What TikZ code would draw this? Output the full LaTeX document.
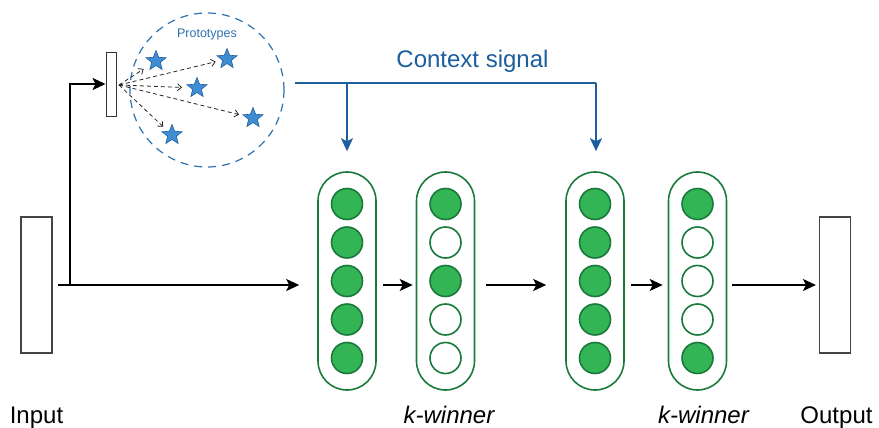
\documentclass[tikz,border=0pt]{standalone}
\usepackage{fontspec}
\setmainfont{Liberation Sans}
\usetikzlibrary{shapes.geometric,arrows.meta,positioning}
\definecolor{ctxblue}{HTML}{1C5E9E}
\definecolor{protoblue}{HTML}{2E72B0}
\definecolor{starfill}{HTML}{3F8ED4}
\definecolor{stardraw}{HTML}{1F5E9C}
\definecolor{neurfill}{HTML}{33B556}
\definecolor{neurdraw}{HTML}{1A7A3C}
\definecolor{boxgray}{HTML}{444444}
\tikzset{
  iobox/.style={draw=boxgray, line width=1.1pt, fill=white, minimum width=31pt, minimum height=136pt, inner sep=0pt},
  smallbox/.style={draw=black!80, line width=0.9pt, fill=white, minimum width=10pt, minimum height=64pt, inner sep=0pt},
  pill/.style={draw=neurdraw, line width=1.6pt, rounded corners=29pt, minimum width=58pt, minimum height=218pt, inner sep=0pt},
  on/.style={circle, draw=neurdraw, fill=neurfill, line width=1.6pt, minimum size=31pt, inner sep=0pt},
  off/.style={circle, draw=neurdraw, fill=white, line width=1.6pt, minimum size=31pt, inner sep=0pt},
  proto/.style={star, star points=5, star point ratio=2.3, fill=starfill, draw=stardraw, line width=0.6pt, minimum size=21pt, inner sep=0pt},
  flow/.style={draw=black, line width=1.8pt, -{Stealth[length=13pt,width=12pt,inset=3pt]}},
  ctx/.style={draw=ctxblue, line width=1.8pt},
  ctxarrow/.style={ctx, -{Stealth[length=13pt,width=12pt,inset=3pt]}},
  protoarrow/.style={draw=black!85, line width=0.8pt, dash pattern=on 4pt off 3pt, -{Straight Barb[length=4pt,width=7pt]}},
  lbl/.style={font=\fontsize{24}{28}\selectfont, anchor=base, inner sep=0pt},
}
\begin{document}
\begin{tikzpicture}[x=1pt,y=-1pt]
\useasboundingbox (0,0) rectangle (879,428);
\fill[white] (0,0) rectangle (879,428);

% input / output boxes
\node[iobox] (in) at (36.5,285) {};
\node[iobox] (out) at (835,285) {};
\node[smallbox] (sb) at (111,84) {};

% prototypes circle
\node[circle, draw=protoblue, dash pattern=on 8pt off 6pt, line width=1.2pt, minimum size=154pt, inner sep=0pt] (pc) at (207,90) {};
\node[text=protoblue, font=\fontsize{12.5}{14}\selectfont, inner sep=0pt] (ptxt) at (207,34) {Prototypes};

\node[proto] (s1) at (156,61) {};
\node[proto] (s2) at (227,59) {};
\node[proto] (s3) at (197,88) {};
\node[proto] (s4) at (253,118) {};
\node[proto] (s5) at (172,135) {};

\coordinate (src) at (119,85);
\draw[protoarrow, shorten >=14.7pt] (src) -- (s1.center);
\draw[protoarrow, shorten >=11.6pt] (src) -- (s2.center);
\draw[protoarrow, shorten >=15pt] (src) -- (s3.center);
\draw[protoarrow, shorten >=14.3pt] (src) -- (s4.center);
\draw[protoarrow, shorten >=12.1pt] (src) -- (s5.center);

% pills
\node[pill] (p1) at (347,281) {};
\node[pill] (p2) at (445.5,281) {};
\node[pill] (p3) at (595,281) {};
\node[pill] (p4) at (697.5,281) {};

% neurons
\foreach \y/\i in {204/1,242.5/2,281/3,319.5/4,358/5}{
  \node[on] (a\i) at (347,\y) {};
  \node[on] (c\i) at (595,\y) {};
}
\node[on]  (b1) at (445.5,204) {};
\node[off] (b2) at (445.5,242.5) {};
\node[on]  (b3) at (445.5,281) {};
\node[off] (b4) at (445.5,319.5) {};
\node[off] (b5) at (445.5,358) {};
\node[on]  (d1) at (697.5,204) {};
\node[off] (d2) at (697.5,242.5) {};
\node[off] (d3) at (697.5,281) {};
\node[off] (d4) at (697.5,319.5) {};
\node[on]  (d5) at (697.5,358) {};

% main flow
\coordinate (br) at (70,285);
\coordinate (up) at (70,84);
\draw[flow] ([xshift=5pt]in.east) -- ([xshift=-18pt,yshift=-4pt]p1.west);
\draw[flow] (br) -- (up) -- (sb.west);
\draw[flow] ([xshift=6pt,yshift=-4pt]p1.east) -- ([xshift=-3pt,yshift=-4pt]p2.west);
\draw[flow] ([xshift=11pt,yshift=-4pt]p2.east) -- ([xshift=-19pt,yshift=-4pt]p3.west);
\draw[flow] ([xshift=6pt,yshift=-4pt]p3.east) -- ([xshift=-5pt,yshift=-4pt]p4.west);
\draw[flow] ([xshift=5pt,yshift=-4pt]p4.east) -- ([xshift=-3pt]out.west);

% context signal
\coordinate (cstart) at (295,83);
\coordinate (cj1) at (347,83);
\coordinate (cj2) at (596,83);
\draw[ctx] (cstart) -- (cj2);
\draw[ctxarrow] (cj1) -- ([yshift=20pt]p1.north);
\draw[ctxarrow] (cj2) -- ([xshift=1pt,yshift=20pt]p3.north);
\node[lbl, text=ctxblue] (ctxt) at (472.5,68) {Context signal};

% labels
\node[lbl] (lin) at (36.5,423) {Input};
\node[lbl] (lk1) at (449,423) {\itshape k-winner};
\node[lbl] (lk2) at (703.5,423) {\itshape k-winner};
\node[lbl] (lout) at (836.5,423) {Output};
\end{tikzpicture}
\end{document}
